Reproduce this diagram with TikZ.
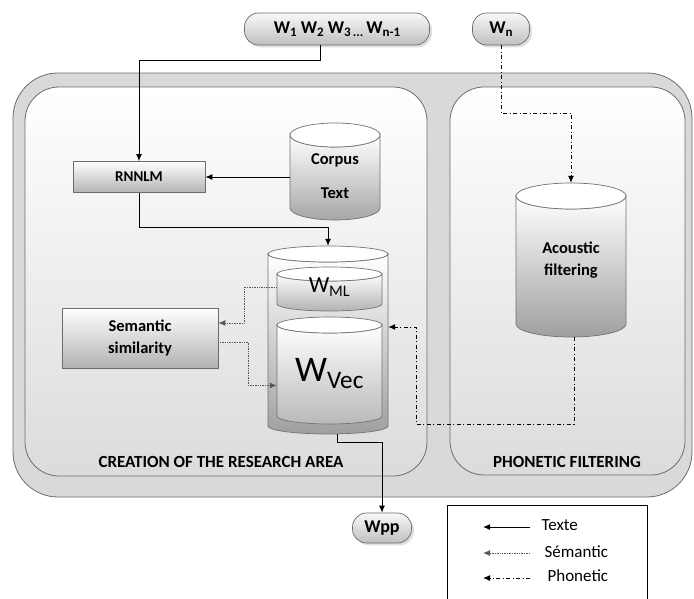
\documentclass[tikz,border=0pt]{standalone}
\usepackage{fontspec}
\setmainfont{Carlito}
\usetikzlibrary{shadows,arrows.meta}

\newcommand{\wsub}[1]{\raisebox{-0.35ex}{\fontsize{13}{13}\selectfont #1}}
% drum: [text options]{name}{cx}{cy}{width}{height}{ellipse ry}{bottom shade}{text}
\newcommand{\drum}[9][]{%
  \path[draw=gray!90!black, line width=0.7pt, top color=white, bottom color=#8]
    (#3-#5/2, #4-#6/2+#7) -- (#3-#5/2, #4+#6/2-#7)
    arc[start angle=180, end angle=0, x radius=#5/2, y radius=#7]
    -- (#3+#5/2, #4-#6/2+#7)
    arc[start angle=0, end angle=180, x radius=#5/2, y radius=#7] -- cycle;
  \draw[draw=gray!90!black, line width=0.7pt, fill=white] (#3, #4-#6/2+#7) ellipse [x radius=#5/2, y radius=#7];
  \node[minimum width=#5, minimum height=#6, inner sep=0pt, align=center, #1] (#2) at (#3,#4) {#9};
}

\tikzset{
  panel/.style={draw=gray!85!black, line width=0.8pt, rounded corners=34pt, top color=white, bottom color=gray!28},
  pill/.style={draw=gray!85!black, line width=0.7pt, rounded corners=14pt, top color=gray!5, bottom color=gray!50, drop shadow={opacity=0.25}, font=\bfseries\fontsize{18}{18}\selectfont, inner sep=0pt},
  procbox/.style={draw=gray!85!black, line width=0.7pt, rectangle, top color=white, bottom color=gray!60, inner sep=0pt, font=\bfseries\fontsize{16.5}{22}\selectfont, align=center},
  lbl/.style={font=\bfseries\fontsize{16.5}{22}\selectfont},
  title/.style={font=\bfseries\fontsize{17}{17}\selectfont},
  legendtxt/.style={anchor=west, font=\fontsize{17}{17}\selectfont},
  txt/.style={-{Latex[length=7pt,width=6pt]}, line width=1pt},
  sem/.style={-{Latex[length=7pt,width=6pt]}, line width=1pt, gray!70!black, dash pattern=on 1pt off 0.7pt},
  pho/.style={-{Latex[length=7pt,width=6pt]}, line width=1pt, dash pattern=on 4pt off 2.5pt on 1pt off 2.5pt},
}

\begin{document}
\begin{tikzpicture}[x=1pt, y=-1pt]
        \useasboundingbox (0,0) rectangle (694,598);
        % frames
        \draw[draw=gray!85!black, line width=0.8pt, rounded corners=45pt, fill=gray!30] (13,73) rectangle (692,497);
        \draw[panel] (25,87) rectangle (427,476);
        \draw[panel] (450,87) rectangle (685,475);
        \node[title] (areaLbl) at (221,462) {CREATION OF THE RESEARCH AREA};
        \node[title] (phonLbl) at (567,462) {PHONETIC FILTERING};

        % inputs
        \node[pill, minimum width=185pt, minimum height=32pt] (wseq) at (337,29) {W\wsub{1} W\wsub{2} W\wsub{3\,...}\,W\wsub{n-1}};
        \node[pill, minimum width=57pt, minimum height=32pt] (wn) at (501,29) {W\wsub{n}};

        % language model side
        \node[procbox, minimum width=132pt, minimum height=31pt, font=\bfseries\fontsize{15}{15}\selectfont] (rnnlm) at (139,177) {RNNLM};
        \drum[lbl, yshift=-5pt]{corpus}{335}{171.5}{90}{97}{12}{gray!70}{Corpus\\[12pt]Text}
        \node[procbox, minimum width=156pt, minimum height=60pt] (semsim) at (140,338) {Semantic\\similarity};
        \drum{base}{328}{340}{120}{188}{8}{gray!75}{}
        \drum[font=\fontsize{23}{23}\selectfont, yshift=2pt]{wml}{329.5}{289}{105}{44}{7}{gray!60}{W\textsubscript{ML}}
        \drum[font=\fontsize{36}{36}\selectfont, yshift=-3pt]{wvec}{329.5}{370.5}{105}{107}{8}{gray!55}{W\textsubscript{Vec}}

        % phonetic side
        \drum[lbl]{acoustic}{571}{260}{110}{154}{13}{gray!75}{Acoustic\\filtering}

        % output
        \node[pill, minimum width=59pt, minimum height=30pt] (wpp) at (382,528) {Wpp};

        % connectors
        \draw[txt] ([xshift=-17pt]wseq.south) -- ++(0,15) -| (rnnlm.north);
        \draw[txt] (rnnlm.east -| corpus.west) -- (rnnlm.east);
        \draw[txt] (rnnlm.south) -- ++(0,35) -| (base.north);
        \draw[sem] (wml.west) -- ++(-32,0) |- ([yshift=15pt]semsim.east);
        \draw[sem] ([yshift=-4pt]semsim.east) -- ++(30,0) |- ([yshift=-12pt]wvec.west);
        \draw[pho] (wn.south) -- ++(0,68) -| (acoustic.north);
        \coordinate (phoBend) at (416,424);
        \draw[pho] ([xshift=3pt]acoustic.south) |- (phoBend) |- ([yshift=13pt]base.east);
        \draw[txt] ([xshift=9pt]base.south) -- ++(0,8) -| (wpp.north);

        % legend
        \draw[line width=0.8pt] (447,610) -- (447,505) -- (647,505) -- (647,610);
        \coordinate (lgA) at (530,527);
        \coordinate (lgB) at (530,553);
        \coordinate (lgC) at (530,578);
        \draw[txt] (lgA) -- ++(-47,0);
        \draw[sem] (lgB) -- ++(-47,0);
        \draw[pho] (lgC) -- ++(-47,0);
        \node[legendtxt] (lgTxt) at (538,525) {Texte};
        \node[legendtxt] (lgSem) at (541,552) {Sémantic};
        \node[legendtxt] (lgPho) at (544,576) {Phonetic};
\end{tikzpicture}
\end{document}
